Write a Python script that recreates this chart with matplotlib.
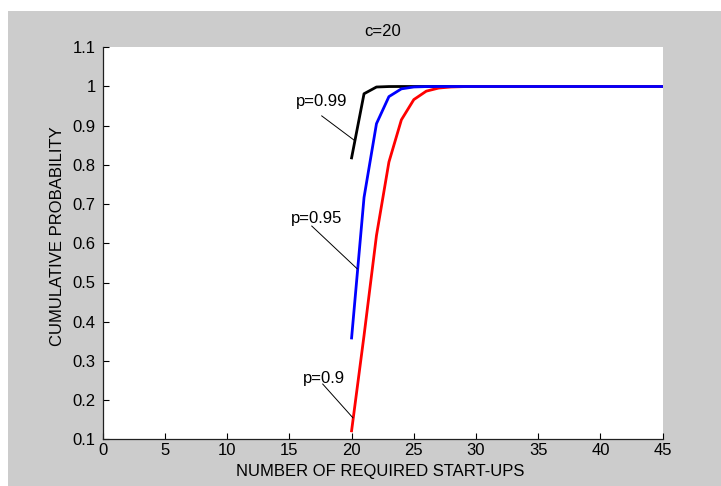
import matplotlib
matplotlib.use('Agg')
import matplotlib.pyplot as plt
from matplotlib.patches import Rectangle
from matplotlib.ticker import FuncFormatter

plt.rcParams['font.family'] = ['Liberation Sans', 'DejaVu Sans']

# number of start-ups n and P(N <= n) for c=20 successes
n_startups = list(range(20, 46))
cdf_p99 = [0.8179, 0.9815, 0.9987, 0.9999, 1.0, 1.0, 1.0, 1.0, 1.0, 1.0,
           1.0, 1.0, 1.0, 1.0, 1.0, 1.0, 1.0, 1.0, 1.0, 1.0,
           1.0, 1.0, 1.0, 1.0, 1.0, 1.0]
cdf_p95 = [0.3585, 0.7170, 0.9052, 0.9742, 0.9940, 0.9988, 0.9998, 1.0, 1.0, 1.0,
           1.0, 1.0, 1.0, 1.0, 1.0, 1.0, 1.0, 1.0, 1.0, 1.0,
           1.0, 1.0, 1.0, 1.0, 1.0, 1.0]
cdf_p90 = [0.1216, 0.3647, 0.6200, 0.8073, 0.9149, 0.9666, 0.9881, 0.9961, 0.9988, 0.9997,
           0.9999, 1.0, 1.0, 1.0, 1.0, 1.0, 1.0, 1.0, 1.0, 1.0,
           1.0, 1.0, 1.0, 1.0, 1.0, 1.0]

x_ticks = list(range(0, 50, 5))
y_ticks = [0.1, 0.2, 0.3, 0.4, 0.5, 0.6, 0.7, 0.8, 0.9, 1.0, 1.1]

W, H = 721, 486
FS = 12
fig = plt.figure(figsize=(W / 100, H / 100), dpi=100, facecolor='white')

# grey figure window background
fig.patches.append(Rectangle((8 / W, 0), 1 - 8 / W, 1 - 11 / H,
                             transform=fig.transFigure, facecolor='#cccccc',
                             edgecolor='none', zorder=-5))

ax = fig.add_axes([102.7 / W, 1 - 439.3 / H, 560 / W, 392 / H])
ax.set_facecolor('white')

ax.plot(n_startups, cdf_p99, color='black', linewidth=2.0)
ax.plot(n_startups, cdf_p90, color='#ff0000', linewidth=2.0)
ax.plot(n_startups, cdf_p95, color='#0000ff', linewidth=2.0)

# curve labels with leader lines
ax.text(15.55, 0.961, 'p=0.99', fontsize=FS, va='center', ha='left')
ax.plot([17.6, 20.25], [0.925, 0.862], color='black', linewidth=0.7)
ax.text(15.14, 0.664, 'p=0.95', fontsize=FS, va='center', ha='left')
ax.plot([16.8, 20.45], [0.644, 0.535], color='black', linewidth=0.7)
ax.text(16.07, 0.254, 'p=0.9', fontsize=FS, va='center', ha='left')
ax.plot([17.68, 20.1], [0.241, 0.155], color='black', linewidth=0.7)

ax.set_xlim(0, 45)
ax.set_ylim(0.1, 1.1)
ax.set_xticks(x_ticks)
ax.set_yticks(y_ticks)
ax.yaxis.set_major_formatter(FuncFormatter(lambda v, _: f'{v:g}'))
ax.tick_params(direction='in', length=4, width=0.8, labelsize=FS,
               top=False, right=False, colors='black')
ax.tick_params(axis='x', pad=3.0)
ax.tick_params(axis='y', pad=5.0)

for side in ('top', 'right'):
    ax.spines[side].set_visible(False)
for side in ('left', 'bottom'):
    ax.spines[side].set_color('#202020')
    ax.spines[side].set_linewidth(0.9)

ax.set_title('c=20', fontsize=FS, pad=8)
ax.set_xlabel('NUMBER OF REQUIRED START-UPS', fontsize=FS)
ax.set_ylabel('CUMULATIVE PROBABILITY', fontsize=FS)
ax.xaxis.set_label_coords(0.496, -0.062)
ax.yaxis.set_label_coords(-0.068, 0.519)

fig.savefig('out.png', dpi=100, facecolor=fig.get_facecolor())
plt.close(fig)
